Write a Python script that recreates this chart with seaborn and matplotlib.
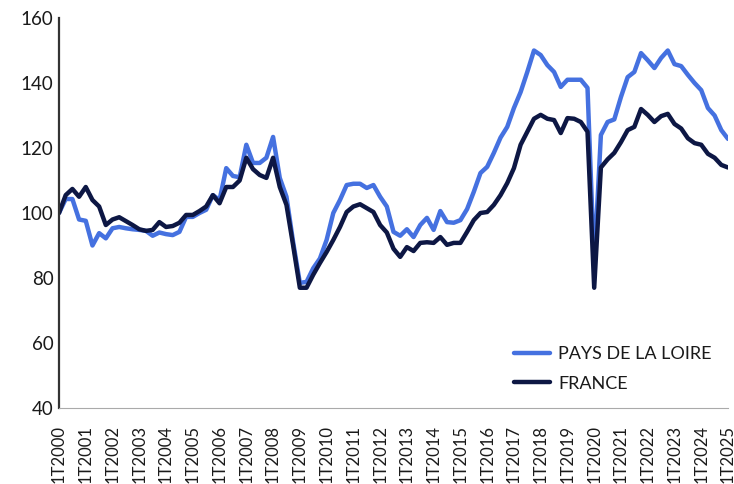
import numpy as np
import pandas as pd
import seaborn as sns
import matplotlib.pyplot as plt

# quarterly index, base 100 = 1T2000
quarters = [f"{q}T{y}" for y in range(2000, 2026) for q in range(1, 5)][:101]

pays_de_la_loire = [
    100, 104.3, 104.3, 98, 97.6, 90, 93.8, 92.2,
    95.3, 95.7, 95.3, 95, 94.8, 94.5, 93, 94,
    93.5, 93.2, 94.2, 98.8, 98.8, 100, 101, 105.5,
    104, 113.8, 111.4, 111, 121, 115.4, 115.4, 117,
    123.4, 110.8, 105, 91, 78.5, 78.8, 83, 86,
    91.7, 100, 104, 108.6, 109, 109, 107.7, 108.6,
    105, 102, 94.2, 93, 95, 92.6, 96.3, 98.5,
    94.8, 100.6, 97.2, 97, 97.8, 101.2, 106.5, 112.3,
    114.2, 118.5, 123.2, 126.5, 132.3, 137.2, 143.4, 150,
    148.6, 145.5, 143.4, 138.8, 141, 141, 141, 138.5,
    84, 124, 128, 128.8, 135.7, 141.8, 143.4, 149.2,
    147, 144.6, 147.7, 150, 145.8, 145.2, 142.5, 140,
    137.8, 132.3, 130, 125.5, 122.8,
]

france = [
    100, 105.5, 107.4, 105, 108, 104, 102, 96.3,
    98, 98.7, 97.5, 96.3, 95, 94.5, 94.8, 97.2,
    95.7, 96, 97, 99.4, 99.4, 100.6, 102, 105.5,
    103, 108, 108, 110, 117, 113.5, 111.7, 110.8,
    117, 108, 102.5, 90, 77, 77, 81, 84.6,
    88, 91.7, 95.7, 100.3, 102, 102.7, 101.5, 100.3,
    96.3, 94, 89, 86.5, 89.5, 88.3, 90.8, 91,
    90.8, 92.6, 90.2, 90.8, 90.8, 94.2, 97.8, 100,
    100.3, 102.5, 105.5, 109.2, 113.8, 121, 125, 129,
    130.2, 129, 128.6, 124.6, 129.2, 129, 128, 125,
    77, 114, 116.5, 118.5, 121.8, 125.5, 126.5, 132,
    130.2, 128, 129.8, 130.5, 127.4, 126, 123, 121.5,
    121, 118.2, 117, 114.8, 114,
]

series_names = ["PAYS DE LA LOIRE", "FRANCE"]
colors = ["#4571e0", "#0d1744"]

df = pd.DataFrame({
    "t": list(range(len(quarters))) * 2,
    "valeur": pays_de_la_loire + france,
    "serie": [series_names[0]] * len(quarters) + [series_names[1]] * len(quarters),
})

sns.set_style("white")
plt.rcParams["font.family"] = ["Lato", "DejaVu Sans"]

fig = plt.figure(figsize=(7.34, 4.84), dpi=100)
ax = fig.add_axes([59 / 734, 76 / 484, 669 / 734, 390 / 484])

sns.lineplot(data=df, x="t", y="valeur", hue="serie", hue_order=series_names,
             palette=colors, linewidth=3.2, ax=ax)

ax.set_xlim(0, len(quarters) - 1)
ax.set_ylim(40, 160)
ax.set_yticks(range(40, 161, 20))
ax.set_xticks(range(len(quarters)))
ax.set_xticklabels([q if i % 4 == 0 else "" for i, q in enumerate(quarters)],
                   rotation=90, fontsize=12, color="#1a1a1a")
ax.tick_params(axis="x", length=5, color="#aaaaaa", width=0.8, pad=7)
ax.tick_params(axis="y", length=0, labelsize=13.5, colors="#1a1a1a", pad=4)
ax.set_xlabel("")
ax.set_ylabel("")

for side in ["top", "right"]:
    ax.spines[side].set_visible(False)
ax.spines["left"].set_color("#333333")
ax.spines["left"].set_linewidth(1.6)
ax.spines["bottom"].set_color("#aaaaaa")
ax.spines["bottom"].set_linewidth(0.8)

leg = ax.legend(loc="lower right", bbox_to_anchor=(1.0, 0.0), frameon=False,
                fontsize=13, handlelength=2.0, labelspacing=0.75, handletextpad=0.45)
for line in leg.get_lines():
    line.set_linewidth(3.2)
for txt in leg.get_texts():
    txt.set_color("#1a1a1a")

fig.savefig("out.png", dpi=100)
